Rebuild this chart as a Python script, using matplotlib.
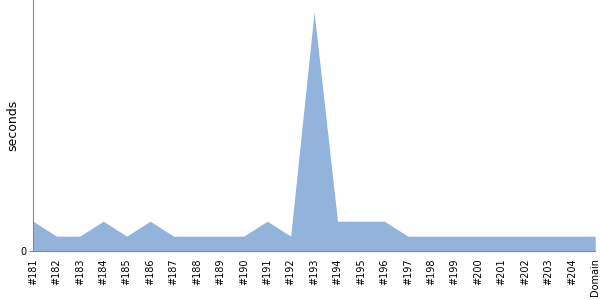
import matplotlib
matplotlib.use("Agg")
import matplotlib.pyplot as plt
import numpy as np

builds = ['#%d' % n for n in range(181, 205)] + ['Domain']
seconds = [2, 1, 1, 2, 1, 2, 1, 1, 1, 1, 2, 1, 16, 2, 2, 2, 1, 1, 1, 1, 1, 1, 1, 1, 1]

fig = plt.figure(figsize=(6, 3), dpi=100)
ax = fig.add_axes([0.055, 0.163, 0.937, 0.837])
x = np.arange(len(builds))
ax.fill_between(x, seconds, 0, color='#92b4dc', linewidth=0)
ax.set_xlim(0, len(builds) - 1)
ax.set_ylim(0, 16.8)
ax.set_yticks([0])
ax.set_xticks(x)
ax.set_xticklabels(builds, rotation=90, fontsize=7)
ax.tick_params(axis='x', length=0, pad=5)
ax.tick_params(axis='y', length=3, color='#888888', labelsize=7, pad=1.5)
ax.set_ylabel('seconds', fontsize=9, labelpad=1)
for s in ['top', 'right']:
    ax.spines[s].set_visible(False)
for s in ['left', 'bottom']:
    ax.spines[s].set_color('#888888')
fig.savefig('out.png')
